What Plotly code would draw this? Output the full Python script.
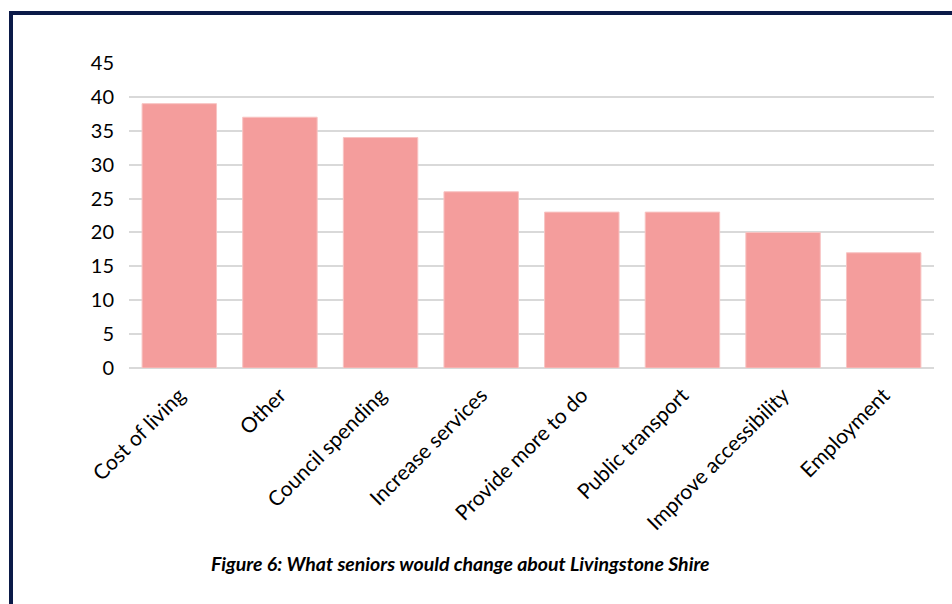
import plotly.graph_objects as go

categories = ["Cost of living", "Other", "Council spending", "Increase services",
              "Provide more to do", "Public transport", "Improve accessibility", "Employment"]
values = [39, 37, 34, 26, 23, 23, 20, 17]
y_ticks = [0, 5, 10, 15, 20, 25, 30, 35, 40, 45]
caption = "Figure 6: What seniors would change about Livingstone Shire"

W, H = 952, 604
L, R, T, B = 129, 18, 63, 236
pw, ph = W - L - R, H - T - B

def px_x(px):
    return (px - L) / pw

def px_y(py):
    return (H - B - py) / ph

fig = go.Figure(go.Bar(
    x=categories, y=values,
    marker=dict(color="#F49D9C", line=dict(color="#F8C4C3", width=1)),
))

navy = "#0B1A48"
fig.update_layout(
    width=W, height=H,
    margin=dict(l=L, r=R, t=T, b=B, pad=0),
    paper_bgcolor="white", plot_bgcolor="white",
    bargap=0.26,
    showlegend=False,
    font=dict(family="Lato, Carlito, sans-serif", color="#000000", size=19),
    xaxis=dict(showgrid=False, tickangle=-45, ticks="", showline=False,
               tickfont=dict(size=21), zeroline=False, ticklabelstandoff=10),
    yaxis=dict(range=[0, 45], tickvals=y_ticks, showgrid=True, gridcolor="#D9D9D9",
               gridwidth=2, zeroline=True, zerolinecolor="#D9D9D9", zerolinewidth=2,
               showline=False, ticks="", ticklabelstandoff=14, tickfont=dict(size=20)),
    shapes=[
        dict(type="line", xref="paper", yref="paper",
             x0=px_x(11), x1=px_x(11), y0=px_y(11), y1=px_y(610),
             line=dict(color=navy, width=4)),
        dict(type="line", xref="paper", yref="paper",
             x0=px_x(9), x1=px_x(960), y0=px_y(13), y1=px_y(13),
             line=dict(color=navy, width=4)),
    ],
    annotations=[dict(
        text="<b><i>" + caption + "</i></b>", xref="paper", yref="paper",
        x=px_x(460), y=px_y(563), showarrow=False, xanchor="center", yanchor="middle",
        font=dict(size=19.5, family="Lato, Carlito, sans-serif", color="#000000"),
    )],
)

fig.write_html("out.html", config={"displayModeBar": False},
               post_script="document.body.style.margin='0';document.body.style.overflow='hidden';")
